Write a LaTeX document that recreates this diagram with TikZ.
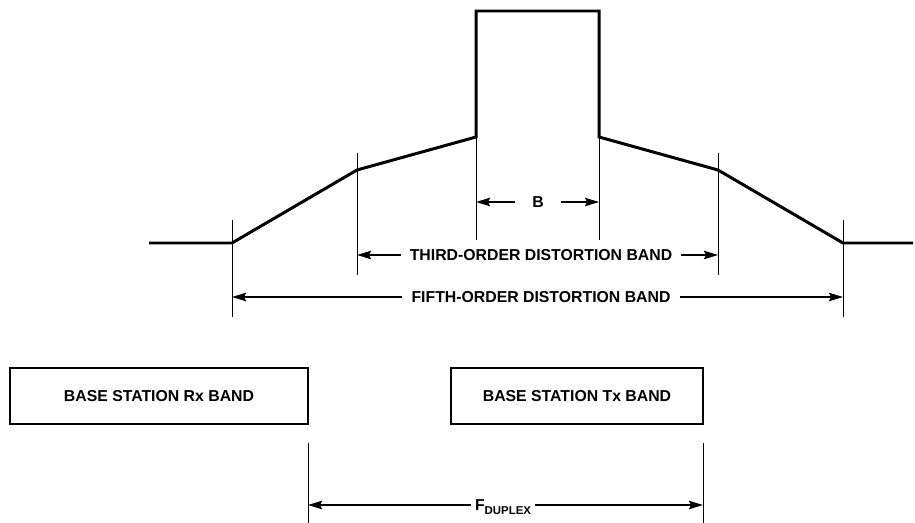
\documentclass[tikz,border=0pt]{standalone}
\usepackage{fontspec}
\setmainfont{Liberation Sans}
\usetikzlibrary{arrows.meta,positioning}

\begin{document}
\begin{tikzpicture}[x=0.02cm,y=-0.02cm,
    spectrum/.style={line width=1.7pt,line join=miter},
    marker/.style={line width=0.5pt},
    dimarrow/.style={line width=0.8pt,-{Stealth[length=8pt,width=4.8pt,inset=1.2pt]}},
    dimtext/.style={font=\fontsize{9}{10}\selectfont\bfseries,inner ysep=0pt,inner xsep=5pt},
    bandbox/.style={draw,line width=1.1pt,minimum height=1.12cm,
                    font=\fontsize{9}{10}\selectfont\bfseries}
  ]
  \useasboundingbox (0,0) rectangle (915,523);
  % spectrum outline
  \coordinate (s0) at (149,243);
  \coordinate (s1) at (232,243);
  \coordinate (s2) at (357,170);
  \coordinate (s3) at (476,137);
  \coordinate (s4) at (476,11);
  \coordinate (s5) at (599,11);
  \coordinate (s6) at (599,137);
  \coordinate (s7) at (718,170);
  \coordinate (s8) at (843,243);
  \coordinate (s9) at (913,243);
  \draw[spectrum] (s0) -- (s1) -- (s2) -- (s3) -- (s4) -- (s5) -- (s6) -- (s7) -- (s8) -- (s9);
  % band edge markers
  \draw[marker] (232,220) -- (232,317);
  \draw[marker] (357,153) -- (357,275);
  \draw[marker] (476,137) -- (476,240);
  \draw[marker] (599,137) -- (599,240);
  \draw[marker] (718,153) -- (718,275);
  \draw[marker] (843,220) -- (843,317);
  % bandwidths
  \node[dimtext,inner xsep=0pt,minimum width=0.92cm] (bw) at (538,202) {B};
  \draw[dimarrow] (bw.west) -- (bw.west -| s3);
  \draw[dimarrow] (bw.east) -- (bw.east -| s6);
  \node[dimtext] (third) at (541,255) {THIRD-ORDER DISTORTION BAND};
  \draw[dimarrow] (third.west) -- (third.west -| s2);
  \draw[dimarrow] (third.east) -- (third.east -| s7);
  \node[dimtext] (fifth) at (541,297) {FIFTH-ORDER DISTORTION BAND};
  \draw[dimarrow] (fifth.west) -- (fifth.west -| s1);
  \draw[dimarrow] (fifth.east) -- (fifth.east -| s8);
  % base station bands
  \node[bandbox,minimum width=5.96cm] (rx) at (159,396) {BASE STATION Rx BAND};
  \node[bandbox,minimum width=5.04cm] (tx) at (577,396) {BASE STATION Tx BAND};
  \coordinate (d1) at (308,443);
  \coordinate (d2) at (703,443);
  \draw[marker] (d1) -- (308,523);
  \draw[marker] (d2) -- (703,523);
  \node[dimtext,inner xsep=2pt] (duplex) at (503,505)
    {F\smash{\raisebox{-0.5ex}{\fontsize{6.5}{7}\selectfont DUPLEX}}};
  \draw[dimarrow] (duplex.west) -- (duplex.west -| d1);
  \draw[dimarrow] (duplex.east) -- (duplex.east -| d2);
\end{tikzpicture}
\end{document}
